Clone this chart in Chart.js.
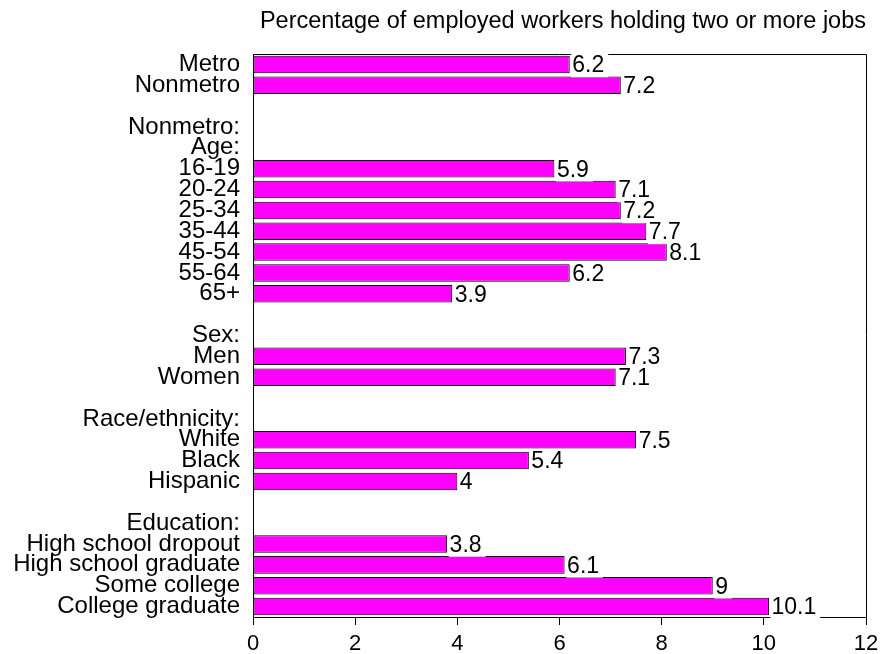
<!DOCTYPE html>
<html>
<head>
<meta charset="utf-8">
<script src="https://cdn.jsdelivr.net/npm/chart.js@4.4.0/dist/chart.umd.min.js"></script>
<style>
  html, body { margin: 0; padding: 0; background: #fff; }
  #wrap { width: 885px; height: 654px; }
</style>
</head>
<body>
<div id="wrap"><canvas id="chart" width="885" height="654"></canvas></div>
<script>
// Chart data
const titleText = 'Percentage of employed workers holding two or more jobs';

const categories = [
    'Metro', 'Nonmetro', '',
    'Nonmetro:', 'Age:', '16-19', '20-24', '25-34', '35-44', '45-54', '55-64', '65+', '',
    'Sex:', 'Men', 'Women', '',
    'Race/ethnicity:', 'White', 'Black', 'Hispanic', '',
    'Education:', 'High school dropout', 'High school graduate', 'Some college', 'College graduate'
];

const values = [
    6.2, 7.2, null,
    null, null, 5.9, 7.1, 7.2, 7.7, 8.1, 6.2, 3.9, null,
    null, 7.3, 7.1, null,
    null, 7.5, 5.4, 4, null,
    null, 3.8, 6.1, 9, 10.1
];

const xTicks = [0, 2, 4, 6, 8, 10, 12];

const FONT = '"Liberation Sans", Arial, sans-serif';

// Title, top/right frame lines and value labels
const framePlugin = {
    id: 'frame',
    beforeDatasetsDraw(chart) {
        const ctx = chart.ctx;
        const a = chart.chartArea;
        ctx.save();
        ctx.strokeStyle = '#000';
        ctx.lineWidth = 1;
        ctx.beginPath();
        ctx.moveTo(a.left, a.top + 0.5);
        ctx.lineTo(a.right + 0.5, a.top + 0.5);
        ctx.lineTo(a.right + 0.5, a.bottom);
        ctx.stroke();
        ctx.restore();
    },
    afterDatasetsDraw(chart) {
        const ctx = chart.ctx;
        const meta = chart.getDatasetMeta(0);
        ctx.save();
        ctx.font = '23px ' + FONT;
        ctx.textBaseline = 'middle';
        ctx.textAlign = 'left';
        meta.data.forEach((bar, i) => {
            const v = values[i];
            if (v === null) return;
            const txt = String(v);
            const w = ctx.measureText(txt).width;
            const x = bar.x + 1.5;
            ctx.fillStyle = '#fff';
            ctx.fillRect(x, bar.y - 11, w + 5, 23.8);
            ctx.fillStyle = '#000';
            ctx.fillText(txt, x + 1, bar.y + 1.5);
        });
        ctx.restore();
    },
    afterDraw(chart) {
        const ctx = chart.ctx;
        ctx.save();
        ctx.font = '23.5px ' + FONT;
        ctx.fillStyle = '#000';
        ctx.textAlign = 'right';
        ctx.textBaseline = 'middle';
        ctx.fillText(titleText, chart.chartArea.right, 22);
        ctx.restore();
    }
};

const config = {
    type: 'bar',
    data: {
        labels: categories,
        datasets: [{
            data: values,
            backgroundColor: '#ff00ff',
            borderColor: '#000',
            borderWidth: 1,
            borderSkipped: false,
            barPercentage: 1,
            categoryPercentage: 0.84
        }]
    },
    options: {
        indexAxis: 'y',
        responsive: false,
        animation: false,
        layout: {
            padding: { top: 54, right: 19, left: 0, bottom: 0 }
        },
        plugins: {
            legend: { display: false },
            tooltip: { enabled: false },
            title: { display: false }
        },
        scales: {
            x: {
                min: 0,
                max: 12,
                afterBuildTicks(scale) {
                    scale.ticks = xTicks.map(v => ({ value: v }));
                },
                afterFit(scale) {
                    scale.height = 37;
                },
                grid: {
                    drawOnChartArea: false,
                    tickLength: 8,
                    color: '#000'
                },
                border: { display: true, color: '#000', width: 1 },
                ticks: {
                    color: '#000',
                    padding: 6,
                    maxRotation: 0,
                    font: { family: FONT, size: 22 }
                }
            },
            y: {
                afterFit(scale) {
                    scale.width = 253;
                },
                grid: { display: false, drawTicks: false },
                border: { display: true, color: '#000', width: 1 },
                ticks: {
                    color: '#000',
                    padding: 13,
                    autoSkip: false,
                    font: { family: FONT, size: 24, lineHeight: 1 }
                }
            }
        }
    },
    plugins: [framePlugin]
};

new Chart(document.getElementById('chart').getContext('2d'), config);
</script>
</body>
</html>
